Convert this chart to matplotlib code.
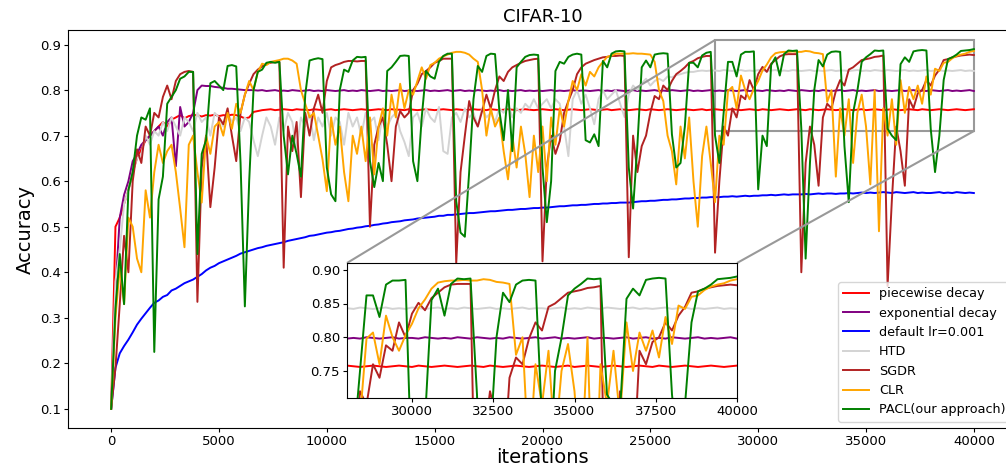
"""
plot.py: CIFAR-10 accuracy curves of several learning rate schedules, with a zoomed inset.
"""

import numpy as np
import matplotlib
matplotlib.use("Agg")
import matplotlib.pyplot as plt
from matplotlib.transforms import TransformedBbox
from mpl_toolkits.axes_grid1.inset_locator import BboxPatch, BboxConnector

# Evaluation points (every 200 iterations)
iters = np.arange(0, 40001, 200)

piecewise = [
    0.100, 0.500, 0.520, 0.550, 0.580, 0.620, 0.650, 0.670, 0.690, 0.700,
    0.710, 0.720, 0.730, 0.720, 0.735, 0.740, 0.745, 0.738, 0.743, 0.745,
    0.745, 0.742, 0.745, 0.744, 0.746, 0.743, 0.745, 0.744, 0.746, 0.745,
    0.742, 0.738, 0.740, 0.752, 0.754, 0.756, 0.757, 0.758, 0.756, 0.757,
    0.758, 0.757, 0.756, 0.758, 0.757, 0.757, 0.756, 0.758, 0.757, 0.756,
    0.757, 0.758, 0.756, 0.757, 0.758, 0.757, 0.756, 0.757, 0.758, 0.757,
    0.756, 0.757, 0.758, 0.757, 0.756, 0.758, 0.757, 0.757, 0.756, 0.758,
    0.757, 0.756, 0.757, 0.758, 0.757, 0.756, 0.757, 0.758, 0.757, 0.756,
    0.758, 0.757, 0.756, 0.757, 0.758, 0.757, 0.757, 0.756, 0.758, 0.757,
    0.756, 0.757, 0.758, 0.757, 0.756, 0.757, 0.758, 0.757, 0.756, 0.757,
    0.758, 0.757, 0.756, 0.758, 0.757, 0.756, 0.757, 0.758, 0.757, 0.756,
    0.757, 0.758, 0.757, 0.756, 0.757, 0.758, 0.756, 0.757, 0.758, 0.757,
    0.756, 0.757, 0.758, 0.757, 0.756, 0.758, 0.757, 0.756, 0.757, 0.758,
    0.757, 0.756, 0.757, 0.758, 0.757, 0.756, 0.757, 0.758, 0.756, 0.757,
    0.758, 0.757, 0.756, 0.757, 0.758, 0.757, 0.756, 0.757, 0.758, 0.757,
    0.756, 0.758, 0.757, 0.756, 0.757, 0.758, 0.757, 0.756, 0.757, 0.758,
    0.757, 0.756, 0.758, 0.757, 0.756, 0.757, 0.758, 0.757, 0.756, 0.757,
    0.758, 0.757, 0.756, 0.757, 0.758, 0.756, 0.757, 0.758, 0.757, 0.756,
    0.757, 0.758, 0.757, 0.756, 0.757, 0.758, 0.757, 0.756, 0.758, 0.757,
    0.756, 0.757, 0.758, 0.757, 0.756, 0.757, 0.758, 0.757, 0.756, 0.757,
    0.758,
]

exponential = [
    0.100, 0.360, 0.520, 0.570, 0.600, 0.644, 0.660, 0.680, 0.690, 0.700,
    0.710, 0.720, 0.700, 0.730, 0.740, 0.633, 0.763, 0.720, 0.730, 0.750,
    0.800, 0.810, 0.809, 0.809, 0.807, 0.806, 0.805, 0.803, 0.803, 0.802,
    0.801, 0.800, 0.800, 0.800, 0.799, 0.800, 0.798, 0.799, 0.800, 0.798,
    0.799, 0.798, 0.800, 0.799, 0.798, 0.799, 0.800, 0.798, 0.799, 0.798,
    0.800, 0.799, 0.798, 0.799, 0.800, 0.798, 0.799, 0.798, 0.800, 0.799,
    0.798, 0.799, 0.800, 0.798, 0.799, 0.798, 0.799, 0.800, 0.798, 0.799,
    0.799, 0.798, 0.799, 0.800, 0.798, 0.799, 0.798, 0.799, 0.800, 0.798,
    0.799, 0.800, 0.798, 0.799, 0.798, 0.800, 0.799, 0.798, 0.799, 0.798,
    0.800, 0.798, 0.799, 0.798, 0.799, 0.800, 0.798, 0.799, 0.798, 0.799,
    0.798, 0.799, 0.800, 0.798, 0.799, 0.798, 0.799, 0.800, 0.798, 0.799,
    0.799, 0.798, 0.799, 0.800, 0.798, 0.799, 0.798, 0.800, 0.799, 0.798,
    0.799, 0.800, 0.798, 0.799, 0.798, 0.799, 0.800, 0.798, 0.799, 0.798,
    0.800, 0.799, 0.798, 0.799, 0.800, 0.798, 0.799, 0.798, 0.799, 0.800,
    0.798, 0.799, 0.798, 0.800, 0.799, 0.798, 0.799, 0.800, 0.798, 0.799,
    0.799, 0.798, 0.800, 0.799, 0.798, 0.799, 0.798, 0.800, 0.799, 0.798,
    0.800, 0.799, 0.798, 0.799, 0.798, 0.800, 0.799, 0.798, 0.799, 0.800,
    0.798, 0.799, 0.800, 0.798, 0.799, 0.798, 0.799, 0.800, 0.798, 0.799,
    0.799, 0.798, 0.799, 0.800, 0.798, 0.799, 0.800, 0.798, 0.799, 0.798,
    0.800, 0.799, 0.798, 0.799, 0.800, 0.798, 0.799, 0.798, 0.799, 0.800,
    0.798,
]

default_lr = [
    0.100, 0.190, 0.222, 0.238, 0.252, 0.268, 0.285, 0.298, 0.310, 0.322,
    0.333, 0.338, 0.346, 0.350, 0.360, 0.364, 0.370, 0.376, 0.380, 0.384,
    0.390, 0.396, 0.404, 0.410, 0.414, 0.420, 0.424, 0.428, 0.432, 0.436,
    0.441, 0.444, 0.447, 0.450, 0.453, 0.455, 0.458, 0.460, 0.462, 0.464,
    0.466, 0.469, 0.471, 0.473, 0.475, 0.477, 0.480, 0.481, 0.483, 0.485,
    0.487, 0.488, 0.490, 0.491, 0.493, 0.495, 0.496, 0.498, 0.499, 0.501,
    0.502, 0.504, 0.505, 0.507, 0.508, 0.510, 0.511, 0.512, 0.514, 0.515,
    0.516, 0.518, 0.519, 0.520, 0.521, 0.522, 0.524, 0.524, 0.526, 0.526,
    0.527, 0.528, 0.529, 0.530, 0.530, 0.531, 0.532, 0.533, 0.534, 0.534,
    0.535, 0.536, 0.537, 0.537, 0.538, 0.539, 0.539, 0.540, 0.541, 0.541,
    0.542, 0.542, 0.543, 0.544, 0.545, 0.545, 0.546, 0.547, 0.547, 0.548,
    0.548, 0.549, 0.550, 0.550, 0.551, 0.551, 0.552, 0.552, 0.553, 0.553,
    0.553, 0.554, 0.555, 0.556, 0.556, 0.557, 0.557, 0.558, 0.559, 0.559,
    0.560, 0.560, 0.561, 0.562, 0.562, 0.563, 0.563, 0.564, 0.564, 0.565,
    0.565, 0.565, 0.566, 0.566, 0.567, 0.566, 0.567, 0.568, 0.567, 0.568,
    0.568, 0.569, 0.569, 0.570, 0.569, 0.570, 0.571, 0.570, 0.571, 0.571,
    0.571, 0.572, 0.571, 0.572, 0.573, 0.572, 0.573, 0.573, 0.572, 0.573,
    0.573, 0.574, 0.573, 0.574, 0.575, 0.574, 0.575, 0.574, 0.575, 0.576,
    0.575, 0.574, 0.576, 0.575, 0.574, 0.575, 0.576, 0.574, 0.575, 0.574,
    0.574, 0.575, 0.576, 0.574, 0.575, 0.574, 0.576, 0.575, 0.574, 0.575,
    0.574,
]

htd = [
    0.100, 0.380, 0.450, 0.550, 0.580, 0.620, 0.650, 0.660, 0.700, 0.680,
    0.710, 0.700, 0.730, 0.710, 0.740, 0.720, 0.700, 0.740, 0.730, 0.710,
    0.750, 0.730, 0.740, 0.700, 0.750, 0.740, 0.720, 0.750, 0.730, 0.740,
    0.710, 0.740, 0.730, 0.690, 0.655, 0.700, 0.740, 0.720, 0.680, 0.740,
    0.710, 0.750, 0.730, 0.670, 0.740, 0.720, 0.750, 0.690, 0.740, 0.720,
    0.750, 0.700, 0.740, 0.730, 0.680, 0.750, 0.720, 0.740, 0.700, 0.750,
    0.730, 0.740, 0.690, 0.750, 0.720, 0.740, 0.750, 0.710, 0.686, 0.655,
    0.740, 0.750, 0.720, 0.760, 0.740, 0.730, 0.763, 0.666, 0.660, 0.740,
    0.750, 0.730, 0.760, 0.740, 0.750, 0.720, 0.760, 0.740, 0.750, 0.730,
    0.760, 0.750, 0.770, 0.740, 0.760, 0.750, 0.770, 0.760, 0.780, 0.760,
    0.770, 0.780, 0.760, 0.780, 0.770, 0.720, 0.655, 0.780, 0.800, 0.770,
    0.790, 0.760, 0.725, 0.780, 0.800, 0.780, 0.790, 0.800, 0.770, 0.741,
    0.790, 0.810, 0.800, 0.815, 0.825, 0.810, 0.820, 0.825, 0.820, 0.830,
    0.828, 0.833, 0.835, 0.838, 0.840, 0.840, 0.842, 0.843, 0.842, 0.843,
    0.843, 0.842, 0.844, 0.843, 0.842, 0.843, 0.844, 0.842, 0.843, 0.842,
    0.844, 0.843, 0.842, 0.843, 0.844, 0.842, 0.843, 0.842, 0.844, 0.843,
    0.842, 0.843, 0.844, 0.842, 0.843, 0.842, 0.843, 0.844, 0.842, 0.843,
    0.843, 0.842, 0.843, 0.844, 0.842, 0.843, 0.842, 0.844, 0.843, 0.842,
    0.844, 0.843, 0.842, 0.843, 0.844, 0.842, 0.843, 0.842, 0.843, 0.844,
    0.842, 0.843, 0.844, 0.842, 0.843, 0.842, 0.843, 0.844, 0.842, 0.843,
    0.842,
]

sgdr = [
    0.100, 0.190, 0.330, 0.480, 0.400, 0.600, 0.670, 0.640, 0.720, 0.700,
    0.750, 0.740, 0.785, 0.810, 0.780, 0.820, 0.835, 0.840, 0.842, 0.840,
    0.335, 0.630, 0.700, 0.543, 0.630, 0.740, 0.725, 0.760, 0.700, 0.644,
    0.750, 0.790, 0.814, 0.835, 0.845, 0.852, 0.858, 0.860, 0.862, 0.862,
    0.410, 0.720, 0.666, 0.730, 0.565, 0.750, 0.700, 0.760, 0.790, 0.750,
    0.820, 0.850, 0.855, 0.858, 0.862, 0.864, 0.864, 0.863, 0.864, 0.864,
    0.500, 0.680, 0.720, 0.740, 0.680, 0.600, 0.720, 0.754, 0.740, 0.750,
    0.800, 0.814, 0.835, 0.842, 0.850, 0.860, 0.864, 0.869, 0.869, 0.869,
    0.420, 0.620, 0.700, 0.776, 0.740, 0.720, 0.754, 0.790, 0.760, 0.800,
    0.830, 0.820, 0.840, 0.850, 0.855, 0.860, 0.864, 0.866, 0.868, 0.869,
    0.424, 0.630, 0.700, 0.660, 0.688, 0.750, 0.776, 0.800, 0.835, 0.850,
    0.858, 0.862, 0.866, 0.869, 0.872, 0.873, 0.875, 0.875, 0.876, 0.875,
    0.433, 0.700, 0.620, 0.677, 0.700, 0.750, 0.787, 0.780, 0.810, 0.800,
    0.820, 0.835, 0.842, 0.850, 0.860, 0.864, 0.870, 0.873, 0.875, 0.875,
    0.443, 0.600, 0.720, 0.700, 0.760, 0.740, 0.788, 0.780, 0.822, 0.800,
    0.835, 0.851, 0.840, 0.858, 0.866, 0.874, 0.878, 0.879, 0.879, 0.879,
    0.400, 0.640, 0.720, 0.680, 0.590, 0.740, 0.770, 0.760, 0.798, 0.822,
    0.810, 0.845, 0.850, 0.858, 0.866, 0.868, 0.870, 0.873, 0.874, 0.876,
    0.370, 0.560, 0.720, 0.666, 0.590, 0.780, 0.760, 0.793, 0.800, 0.822,
    0.810, 0.832, 0.845, 0.866, 0.868, 0.872, 0.874, 0.876, 0.877, 0.878,
    0.877,
]

clr = [
    0.100, 0.300, 0.410, 0.330, 0.520, 0.500, 0.430, 0.400, 0.580, 0.520,
    0.620, 0.680, 0.640, 0.666, 0.680, 0.620, 0.540, 0.455, 0.680, 0.700,
    0.620, 0.553, 0.700, 0.660, 0.720, 0.730, 0.700, 0.750, 0.715, 0.770,
    0.750, 0.790, 0.820, 0.800, 0.840, 0.858, 0.855, 0.862, 0.864, 0.866,
    0.869, 0.869, 0.865, 0.858, 0.800, 0.770, 0.740, 0.750, 0.700, 0.648,
    0.578, 0.740, 0.680, 0.720, 0.620, 0.556, 0.700, 0.660, 0.720, 0.644,
    0.740, 0.615, 0.720, 0.760, 0.700, 0.790, 0.740, 0.814, 0.760, 0.800,
    0.790, 0.820, 0.850, 0.825, 0.855, 0.860, 0.869, 0.874, 0.878, 0.882,
    0.884, 0.884, 0.882, 0.878, 0.869, 0.862, 0.800, 0.700, 0.760, 0.720,
    0.740, 0.666, 0.604, 0.700, 0.630, 0.720, 0.660, 0.565, 0.700, 0.620,
    0.720, 0.600, 0.740, 0.680, 0.760, 0.720, 0.776, 0.820, 0.800, 0.835,
    0.810, 0.840, 0.830, 0.850, 0.862, 0.873, 0.876, 0.880, 0.880, 0.880,
    0.880, 0.881, 0.880, 0.880, 0.879, 0.878, 0.862, 0.800, 0.776, 0.700,
    0.666, 0.593, 0.720, 0.650, 0.740, 0.600, 0.500, 0.655, 0.720, 0.640,
    0.554, 0.700, 0.680, 0.798, 0.807, 0.760, 0.832, 0.800, 0.780, 0.803,
    0.820, 0.843, 0.856, 0.872, 0.881, 0.883, 0.884, 0.884, 0.885, 0.884,
    0.884, 0.886, 0.885, 0.882, 0.881, 0.879, 0.774, 0.800, 0.610, 0.760,
    0.700, 0.780, 0.640, 0.750, 0.790, 0.720, 0.593, 0.800, 0.490, 0.760,
    0.700, 0.780, 0.680, 0.822, 0.750, 0.807, 0.780, 0.810, 0.770, 0.830,
    0.790, 0.847, 0.842, 0.860, 0.862, 0.870, 0.875, 0.878, 0.880, 0.884,
    0.886,
]

pacl = [
    0.100, 0.320, 0.440, 0.330, 0.580, 0.620, 0.700, 0.740, 0.735, 0.760,
    0.225, 0.560, 0.610, 0.770, 0.785, 0.800, 0.825, 0.830, 0.840, 0.840,
    0.440, 0.660, 0.690, 0.815, 0.820, 0.810, 0.800, 0.853, 0.855, 0.852,
    0.640, 0.325, 0.600, 0.800, 0.840, 0.845, 0.860, 0.862, 0.860, 0.862,
    0.700, 0.615, 0.700, 0.660, 0.610, 0.790, 0.865, 0.868, 0.870, 0.868,
    0.630, 0.571, 0.556, 0.800, 0.845, 0.840, 0.865, 0.873, 0.872, 0.873,
    0.644, 0.587, 0.640, 0.600, 0.842, 0.850, 0.862, 0.875, 0.876, 0.875,
    0.644, 0.600, 0.740, 0.842, 0.830, 0.825, 0.862, 0.875, 0.880, 0.880,
    0.556, 0.487, 0.478, 0.620, 0.780, 0.853, 0.840, 0.875, 0.880, 0.879,
    0.754, 0.690, 0.800, 0.666, 0.850, 0.862, 0.873, 0.877, 0.878, 0.877,
    0.630, 0.510, 0.600, 0.842, 0.862, 0.858, 0.873, 0.878, 0.880, 0.878,
    0.690, 0.685, 0.703, 0.677, 0.864, 0.850, 0.880, 0.885, 0.886, 0.885,
    0.630, 0.540, 0.680, 0.850, 0.865, 0.850, 0.878, 0.880, 0.881, 0.880,
    0.703, 0.630, 0.640, 0.720, 0.860, 0.860, 0.850, 0.876, 0.882, 0.884,
    0.700, 0.640, 0.750, 0.862, 0.862, 0.830, 0.878, 0.884, 0.884, 0.885,
    0.582, 0.700, 0.677, 0.855, 0.872, 0.832, 0.879, 0.887, 0.886, 0.887,
    0.715, 0.430, 0.640, 0.800, 0.866, 0.852, 0.878, 0.884, 0.885, 0.884,
    0.677, 0.554, 0.750, 0.799, 0.862, 0.872, 0.879, 0.887, 0.886, 0.887,
    0.715, 0.700, 0.690, 0.857, 0.872, 0.862, 0.885, 0.887, 0.888, 0.887,
    0.715, 0.620, 0.700, 0.822, 0.868, 0.872, 0.878, 0.886, 0.887, 0.888,
    0.890,
]

labels = ["piecewise decay", "exponential decay", "default lr=0.001",
          "HTD", "SGDR", "CLR", "PACL(our approach)"]
colors = ["red", "purple", "blue", "lightgray", "firebrick", "orange", "green"]
series = [piecewise, exponential, default_lr, htd, sgdr, clr, pacl]

W, H = 1006, 470
fig = plt.figure(figsize=(W / 100, H / 100), dpi=100)

# Main axes (the right spine sits just past the image edge, as in the reference)
ax = fig.add_axes([68 / W, 42 / H, (1017 - 68) / W, 398 / H])
for ys, c, lab in zip(series, colors, labels):
    ax.plot(iters, ys, color=c, lw=1.4, label=lab)

ax.set_xlim(-2000, 42000)
ax.set_ylim(0.058, 0.932)
ax.set_title("CIFAR-10", fontsize=13)
ax.set_xlabel("iterations", fontsize=14, labelpad=0)
ax.set_ylabel("Accuracy", fontsize=14)
ax.tick_params(labelsize=9.5, length=3, pad=2)
ax.legend(loc="lower right", fontsize=9.2, labelspacing=0.5)

# Zoomed inset of the last 12000 iterations
axins = fig.add_axes([347 / W, 72 / H, 390 / W, 135 / H])
for ys, c in zip(series, colors):
    axins.plot(iters, ys, color=c, lw=1.4)
axins.set_xlim(28000, 40000)
axins.set_ylim(0.71, 0.91)
axins.set_xticks([30000, 32500, 35000, 37500, 40000])
axins.set_yticks([0.75, 0.80, 0.85, 0.90])
axins.tick_params(labelsize=9.5, length=3, pad=2)

# Box on the main plot and the two connector lines
rect = TransformedBbox(axins.viewLim, ax.transData)
box = BboxPatch(rect, fill=False, ec="0.6", lw=1.5)
ax.add_patch(box)
for l1, l2 in [(2, 2), (1, 4)]:
    con = BboxConnector(axins.bbox, rect, loc1=l1, loc2=l2, ec="0.6", lw=1.5)
    con.set_clip_on(False)
    axins.add_patch(con)

fig.savefig("out.png", dpi=100)
